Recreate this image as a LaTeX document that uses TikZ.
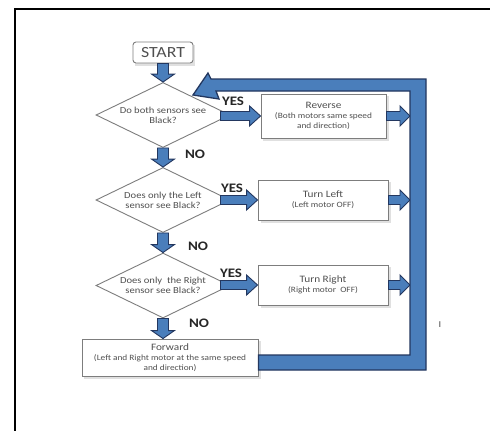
\documentclass[tikz,border=0pt]{standalone}
\usepackage{fontspec}
\setmainfont[FakeStretch=1.15]{Carlito}
\usetikzlibrary{shapes.geometric,calc}
\definecolor{arrfill}{RGB}{74,126,187}
\definecolor{arrline}{RGB}{35,55,95}
\definecolor{boxline}{RGB}{125,125,125}
\definecolor{txt}{RGB}{80,80,80}
\newcommand{\barrow}[5]{%
  \coordinate (bA) at (#1); \coordinate (bB) at (#2);
  \coordinate (bM) at ($(bB)!#5!(bA)$);
  \filldraw[blockarrow] ($(bA)!#3!90:(bB)$) -- ($(bM)!#3!90:(bB)$) -- ($(bM)!#4!90:(bB)$) -- (bB) -- ($(bM)!#4!-90:(bB)$) -- ($(bM)!#3!-90:(bB)$) -- ($(bA)!#3!-90:(bB)$) -- cycle;}
\newcommand{\ttl}[1]{{\fontsize{9.8}{10}\selectfont #1}}
\tikzset{
  blockarrow/.style={fill=arrfill, draw=arrline, line width=0.9pt, line join=miter},
  box/.style={draw=boxline, line width=0.9pt, fill=white, text=txt, align=center, inner sep=1pt, font=\fontsize{8.1}{10}\selectfont},
  startbox/.style={box, rounded corners=3pt, minimum width=60pt, minimum height=21pt, font=\fontsize{15.5}{16}\selectfont},
  dia/.style={draw=boxline, line width=0.9pt, fill=white, shape=diamond, inner sep=0pt, minimum width=134pt, minimum height=65pt},
  dtext/.style={text=txt, align=center, font=\fontsize{9.2}{10}\selectfont, inner sep=0pt},
  yn/.style={text={black!85}, font=\bfseries\fontsize{13}{14}\selectfont, inner sep=0pt},
  shadow/.style={fill=black!12, draw=none}
}
\begin{document}
\begin{tikzpicture}[x=1pt,y=-1pt]
\useasboundingbox (0,0) rectangle (490,431);
\fill[white] (0,0) rectangle (490,431);
% frame
\draw[line width=2.5pt, black] (15,431) -- (15,9) -- (490,9);

% shadows
\fill[shadow] (134.5,44.5) rectangle (194.5,65.5);
\fill[shadow] (263,96) rectangle (388.5,140.5);
\fill[shadow] (260.5,182) rectangle (390.5,222.5);
\fill[shadow] (260.5,267) rectangle (390.5,307.5);
\fill[shadow] (84,341) rectangle (260.5,378.5);

% nodes
\node[startbox] (start) at (163,52.5) {START};
\node[dia] (d1) at (163,115) {};
\node[dtext] (t1) at (d1) {Do both sensors see\\Black?};
\node[dia] (d2) at (163,200) {};
\node[dtext] (t2) at (d2) {Does only the Left\\sensor see Black?};
\node[dia] (d3) at (163,285.5) {};
\node[dtext] (t3) at (d3) {Does only\ \ the Right\\sensor see Black?};

\node[box, minimum width=125pt, minimum height=44pt] (rev) at (323.5,116)
  {\ttl{Reverse}\\(Both motors same speed\\and direction)};
\node[box, minimum width=130pt, minimum height=40pt] (tl) at (323,200)
  {\ttl{Turn Left}\\(Left motor OFF)};
\node[box, minimum width=130pt, minimum height=40pt] (tr) at (323,285)
  {\ttl{Turn Right}\\(Right motor\ \ OFF)};
\node[box, minimum width=176pt, minimum height=37pt] (fwd) at (170,357.5)
  {\ttl{Forward}\\(Left and Right motor at the same speed\\and direction)};

% helper coordinates
\coordinate (lin) at (410,91);
\coordinate (lout) at (426,79);
\coordinate (e1) at ([xshift=-10pt]d1.east);
\coordinate (e2) at ([xshift=-10pt]d2.east);
\coordinate (e3) at ([xshift=-10pt]d3.east);
\coordinate (fb1) at ([yshift=2.5pt]fwd.east);
\coordinate (fb2) at ([yshift=-12.5pt]fwd.east);

% vertical arrows
\barrow{start.south}{d1.north}{5.5pt}{11.5pt}{8pt}
\barrow{d1.south}{d2.north}{5.5pt}{11.5pt}{8pt}
\barrow{d2.south}{d3.north}{5.5pt}{11.5pt}{8pt}
\barrow{d3.south}{d3.south |- fwd.north}{5.5pt}{11.5pt}{8pt}

% yes arrows
\barrow{e1 |- rev.west}{rev.west}{4.5pt}{10pt}{11pt}
\barrow{e2 |- tl.west}{tl.west}{4.5pt}{10pt}{11pt}
\barrow{e3 |- tr.west}{tr.west}{4.5pt}{10pt}{11pt}

% box to loop arrows
\barrow{rev.east}{rev.east -| lin}{4.5pt}{10pt}{10pt}
\barrow{tl.east}{tl.east -| lin}{4.5pt}{10pt}{10pt}
\barrow{tr.east}{tr.east -| lin}{4.5pt}{10pt}{10pt}

% loop back arrow
\filldraw[blockarrow, line width=1.3pt]
  (fb1) -- (lin |- fb1) -- (lin) -- (216,91) -- (219,99)
  -- (193,95) -- (208,73) -- (211,79) -- (lout) -- (lout |- fb2)
  -- (fb2) -- cycle;

% labels
\node[yn] (y1) at (233,101) {YES};
\node[yn] (y2) at (232,188) {YES};
\node[yn] (y3) at (231,273) {YES};
\node[yn] (n1) at (195,154) {NO};
\node[yn] (n2) at (198,246) {NO};
\node[yn] (n3) at (199,323) {NO};
\node[text=black!70, font=\fontsize{9}{10}\selectfont, inner sep=0pt] (mark) at (440,325) {I};
\end{tikzpicture}
\end{document}
